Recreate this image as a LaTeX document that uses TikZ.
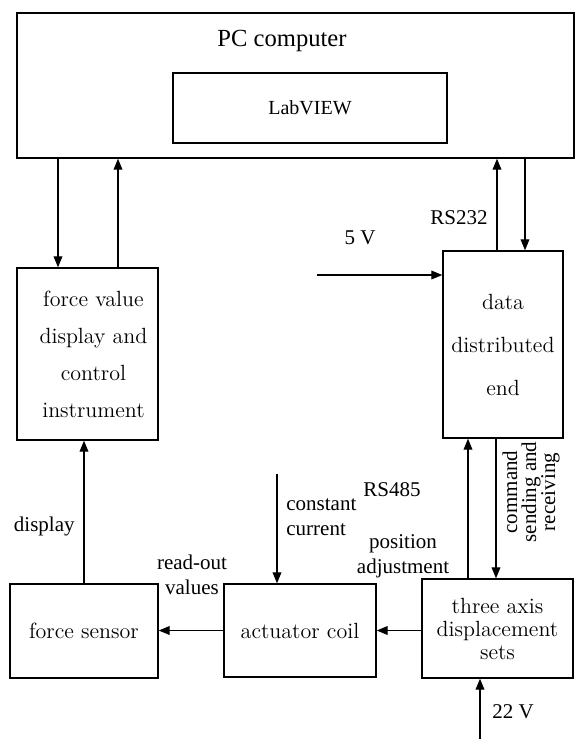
\documentclass[tikz,border=0pt]{standalone}
\usepackage{fontspec}
\usepackage{amsmath}
\usetikzlibrary{arrows.meta,positioning}
\newfontfamily\labelfont{Liberation Serif}
\tikzset{
  blk/.style={draw, line width=0.7pt, inner sep=0pt, align=center, font=\fontsize{11}{18.5}\selectfont},
  lbl/.style={font=\labelfont\fontsize{10.5}{12.5}\selectfont, inner sep=0pt, align=center},
  sig/.style={line width=0.55pt, -{Triangle[length=5.5pt,width=4.4pt]}}
}

\begin{document}
\begin{tikzpicture}[x=0.5pt,y=-0.5pt]
  \useasboundingbox (0,0) rectangle (575,740);
  % PC and the LabVIEW box inside it
  \node[blk, minimum width=278.5pt, minimum height=72.5pt] (pc) at (295.5,85.5) {};
  \node[lbl, font=\labelfont\fontsize{12.3}{14}\selectfont] (pcname) at (282,41) {PC computer};
  \node[blk, minimum width=137pt, minimum height=35pt, font=\labelfont\fontsize{10}{12}\selectfont] (lv) at (310,108) {LabVIEW};
  % upper blocks
  \node[blk, minimum width=70.5pt, minimum height=86pt] (ctrl) at (87.5,354) {\hspace*{6pt}force value\\\hspace*{6pt}display and\\\hspace*{6pt}control\\\hspace*{6pt}instrument};
  \node[blk, minimum width=60pt, minimum height=93.5pt, font=\fontsize{11}{21.5}\selectfont] (dist) at (503,344.5) {data\\distributed\\end};
  % lower row
  \node[blk, minimum width=74pt, minimum height=47pt] (sensor) at (84,631) {force sensor};
  \node[blk, minimum width=76pt, minimum height=46.5pt] (coil) at (300,630.5) {actuator coil};
  \node[blk, minimum width=75.5pt, minimum height=49.5pt, font=\fontsize{11}{11.5}\selectfont] (axis) at (497.5,628.5) {three axis\\displacement\\sets};

  % PC <-> control instrument
  \path (ctrl.north) ++(-14.75pt,0) coordinate (ctrlin) ++(30pt,0) coordinate (ctrlout);
  \draw[sig] (pc.south -| ctrlin) -- (ctrlin);
  \draw[sig] (ctrlout) -- (pc.south -| ctrlout);
  % PC <-> data distributed end
  \path (dist.north) ++(-3pt,0) coordinate (distout) ++(14pt,0) coordinate (distin);
  \draw[sig] (distout) -- (pc.south -| distout);
  \draw[sig] (pc.south -| distin) -- (distin);
  \node[lbl, anchor=east] (rs232) at (488,218) {RS232};
  % 5 V supply
  \path (dist.west) ++(0,34.75pt) coordinate (vin);
  \draw[sig] (vin) ++(-62.5pt,0) -- (vin);
  \node[lbl] (v5) at (360,238) {5 V};

  % data distributed end <-> three axis sets
  \path (axis.north) ++(-14.75pt,0) coordinate (axout) ++(14pt,0) coordinate (axin);
  \draw[sig] (axout) -- (dist.south -| axout);
  \draw[sig] (dist.south -| axin) -- (axin);
  \node[lbl] (rs485) at (392,490) {RS485};
  \node[lbl, rotate=90, font=\labelfont\fontsize{10.5}{9.5}\selectfont] (cmd) at (531,492) {command\\sending and\\receiving};
  \node[lbl] (posadj) at (403,556) {position\\adjustment};
  % 22 V supply
  \path (axis.south) ++(-8.75pt,0) coordinate (v22in);
  \draw[sig] (v22in) ++(0,-30pt) -- (v22in);
  \node[lbl] (v22) at (513,712) {22 V};

  % lower row
  \draw[sig] (axis.west |- coil.east) -- (coil.east);
  \draw[sig] (coil.west) -- (coil.west -| sensor.east);
  \node[lbl] (readout) at (192,575) {read-out\\values};
  \path (coil.north) ++(-11.5pt,0) coordinate (iin);
  \draw[sig] (iin) ++(0,54.5pt) -- (iin);
  \node[lbl, align=left, anchor=west] (cc) at (286,517) {constant\\current};
  \draw[sig] (sensor.north) -- (sensor.north |- ctrl.south);
  \node[lbl, anchor=east] (disp) at (75,526) {display};
\end{tikzpicture}
\end{document}
